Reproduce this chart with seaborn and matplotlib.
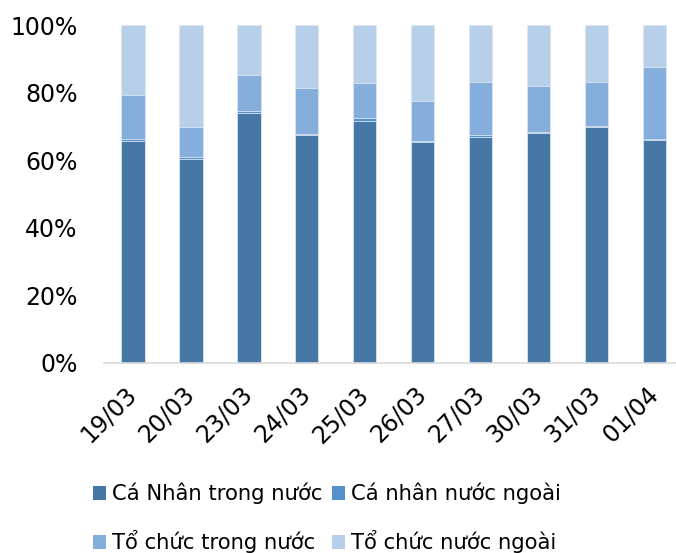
import numpy as np
import pandas as pd
import matplotlib
matplotlib.use("Agg")
import matplotlib.pyplot as plt
import seaborn as sns
from matplotlib.patches import Patch

dates = ["19/03", "20/03", "23/03", "24/03", "25/03", "26/03", "27/03", "30/03", "31/03", "01/04"]
ca_nhan_trong_nuoc = [65.7, 60.5, 73.9, 67.4, 71.8, 65.3, 66.9, 68.2, 69.8, 65.9]
ca_nhan_nuoc_ngoai = [0.6, 0.5, 0.6, 0.3, 0.8, 0.5, 0.5, 0.2, 0.4, 0.5]
to_chuc_trong_nuoc = [13.2, 8.8, 10.7, 13.7, 10.4, 11.9, 15.8, 13.6, 13.1, 21.2]
to_chuc_nuoc_ngoai = [20.5, 30.2, 14.8, 18.6, 17.0, 22.3, 16.8, 18.0, 16.7, 12.4]

series_names = ["Cá Nhân trong nước", "Cá nhân nước ngoài", "Tổ chức trong nước", "Tổ chức nước ngoài"]
colors = ["#4677A7", "#5490CB", "#85AEDC", "#B8CFE9"]

sns.set_theme(style="white")
plt.rcParams["font.family"] = ["DejaVu Sans"]
plt.rcParams["text.color"] = "black"
plt.rcParams["xtick.color"] = "black"
plt.rcParams["ytick.color"] = "black"
plt.rcParams["xtick.labelcolor"] = "black"
plt.rcParams["ytick.labelcolor"] = "black"

df = pd.DataFrame({
    "date": dates,
    series_names[0]: ca_nhan_trong_nuoc,
    series_names[1]: ca_nhan_nuoc_ngoai,
    series_names[2]: to_chuc_trong_nuoc,
    series_names[3]: to_chuc_nuoc_ngoai,
})
cum = df[series_names].cumsum(axis=1)

fig = plt.figure(figsize=(6.76, 5.53), dpi=100)
ax = fig.add_axes([0.154, 0.344, 0.857, 0.610])

for i in range(len(series_names) - 1, -1, -1):
    sns.barplot(x=df["date"], y=cum[series_names[i]], color=colors[i], ax=ax,
                width=0.4, saturation=1, edgecolor="#DCE6F2", linewidth=0.6)

ax.set_ylim(0, 100)
ax.set_xlim(-0.5, len(dates) - 0.5)
ax.set_yticks([0, 20, 40, 60, 80, 100])
ax.set_yticklabels([f"{v}%" for v in [0, 20, 40, 60, 80, 100]], fontsize=17, color="black")
ax.set_xlabel("")
ax.set_ylabel("")
ax.set_xticks(range(len(dates)))
ax.set_xticklabels(dates, fontsize=17, rotation=45, ha="right", va="center",
                   rotation_mode="anchor", color="black")
ax.tick_params(axis="x", which="major", length=0, pad=20)
ax.tick_params(axis="y", length=0, pad=19)
ax.set_xticks(np.arange(-0.5, len(dates), 1), minor=True)
ax.tick_params(axis="x", which="minor", length=7, color="#D9D9D9", width=1.2)
for s in ["left", "right", "top"]:
    ax.spines[s].set_visible(False)
ax.spines["bottom"].set_color("#D9D9D9")
ax.spines["bottom"].set_linewidth(1.2)
ax.grid(False)

handles = [Patch(facecolor=c, edgecolor="none") for c in colors]
order = [0, 2, 1, 3]
leg = fig.legend([handles[k] for k in order], [series_names[k] for k in order],
                 ncol=2, loc="upper left", bbox_to_anchor=(93 / 676, 1 - 483 / 553),
                 frameon=False, borderpad=0, borderaxespad=0,
                 prop={"family": "DejaVu Sans", "size": 15.2},
                 handlelength=0.62, handleheight=0.62, handletextpad=0.3,
                 columnspacing=0.42, labelspacing=1.22)
for t in leg.get_texts():
    t.set_color("black")

fig.savefig("out.png", dpi=100)
